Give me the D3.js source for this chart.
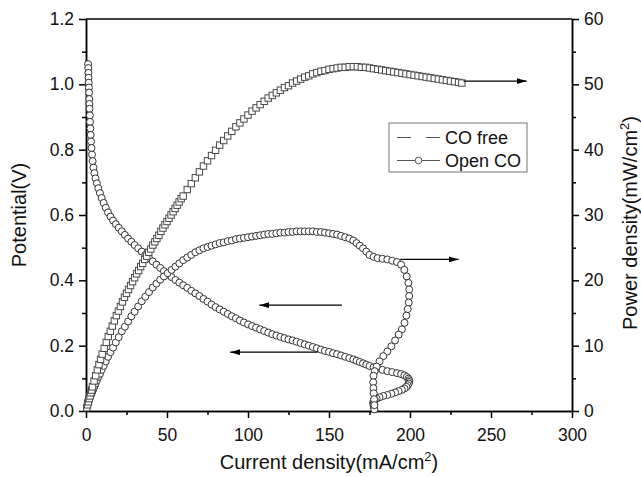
<!DOCTYPE html>
<html lang="en">
<head>
    <meta charset="UTF-8">
    <title>Potential and power density vs current density</title>
    <script src="https://d3js.org/d3.v7.min.js"></script>
    <style>
        body { margin: 0; background: #fff; }
        text { font-family: "Liberation Sans", Arial, sans-serif; fill: #111; }
        .axis path, .axis line { stroke: #000; stroke-width: 1.5; }
        .axis text { font-size: 17.5px; }
    </style>
</head>
<body>
    <svg width="641" height="477"></svg>

    <script>
        // CO free: power density curve (square markers)
        const currentFree = [0.5, 1, 1.5, 2, 2.5, 3, 3.5, 4, 5, 6, 7, 8, 9,
            10, 11.25, 12.5, 13.75, 15, 16.25, 17.5, 18.75, 20, 21.25,
            22.5, 23.75, 25, 26.25, 27.5, 28.75, 30, 31.25, 32.5, 33.75,
            35, 36.25, 37.5, 38.75, 40, 41.25, 42.5, 43.75, 45, 46.25,
            47.5, 48.75, 50, 51.25, 52.5, 53.75, 55, 56.25, 57.5, 58.75, 60,
            62.5, 65, 67.5, 70, 72.5, 75, 77.5, 80, 82.5, 85,
            87.5, 90, 92.5, 95, 97.5, 100, 102.5, 105, 107.5, 110,
            112.5, 115, 117.5, 120, 122.5, 125, 127.5, 130, 132.5, 135,
            137.5, 140, 142.5, 145, 147.5, 150, 152.5, 155, 157.5, 160,
            162.5, 165, 167.5, 170, 172.5, 175, 177.5, 180, 182.5, 185,
            187.5, 190, 192.5, 195, 197.5, 200, 202.5, 205, 207.5, 210,
            212.5, 215, 217.5, 220, 222.5, 225, 227.5, 230, 232];
        const powerFree = [0.5, 0.95, 1.4, 1.9, 2.3, 2.8, 3.2, 3.7, 4.6, 5.4, 6.3, 7.1, 7.9,
            8.7, 9.6, 10.5, 11.4, 12.2, 13.0, 13.8, 14.6, 15.3, 16.0,
            16.7, 17.4, 18.0, 18.6, 19.2, 19.8, 20.4, 21.0, 21.5, 22.1,
            22.6, 23.2, 23.7, 24.3, 24.8, 25.4, 25.9, 26.4, 26.9, 27.5,
            28.0, 28.5, 29.0, 29.5, 30.0, 30.5, 31.0, 31.5, 32.0, 32.5, 32.9,
            33.9, 34.8, 35.7, 36.6, 37.5, 38.3, 39.1, 39.9, 40.7, 41.4,
            42.1, 42.8, 43.5, 44.1, 44.7, 45.3, 45.9, 46.4, 46.9, 47.4,
            47.9, 48.3, 48.7, 49.1, 49.5, 49.8, 50.2, 50.5, 50.8, 51.1,
            51.3, 51.6, 51.8, 52.0, 52.1, 52.3, 52.4, 52.5, 52.6, 52.6,
            52.7, 52.7, 52.7, 52.6, 52.6, 52.5, 52.4, 52.3, 52.2, 52.1,
            52.0, 51.9, 51.8, 51.7, 51.6, 51.5, 51.4, 51.3, 51.2, 51.1,
            51.0, 50.9, 50.8, 50.7, 50.6, 50.5, 50.4, 50.3, 50.2];

        // Open CO: polarization + power density (circle markers)
        const currentOpen = [1.3, 1.4, 1.5, 1.6, 1.7, 1.8, 1.9, 2.0, 2.1, 2.2,
            2.4, 2.5, 2.7, 2.9, 3.1, 3.4, 3.7, 4.1, 4.6, 5.2,
            5.9, 6.7, 7.6, 8.6, 9.7, 10.9, 12.2, 13.6, 15.1, 16.7,
            18.4, 20.2, 22.1, 24.0, 26.0, 28.0, 30.0, 32.2, 34.4, 36.6,
            38.9, 41.2, 43.5, 45.8, 48.1, 50.4, 52.8, 55.2, 57.6, 60.0,
            62.5, 65, 67.5, 70, 72.5, 75, 77.5, 80, 82.5, 85,
            87.5, 90, 92.5, 95, 97.5, 100, 102.5, 105, 107.5, 110,
            112.5, 115, 117.5, 120, 122.5, 125, 127.5, 130, 132.5, 135,
            137.5, 140, 142.5, 145, 147.5, 150, 152.5, 155, 157.5, 160,
            162.5, 165, 167, 169, 171, 173, 175, 177.5, 180, 183,
            186, 189, 192, 194.5, 196.5, 198, 199, 199.5, 199.5, 199.2,
            198.6, 197.8, 196.6, 195, 193, 190.8, 188.5, 186, 183.5, 181.2,
            179.4, 178.2, 177.5, 177.3, 177.4, 177.6, 177.8, 178];
        const potentialOpen = [1.062, 1.05, 1.035, 1.02, 1.005, 0.99, 0.975, 0.955, 0.94, 0.925,
            0.905, 0.885, 0.865, 0.845, 0.825, 0.805, 0.785, 0.765, 0.745, 0.728,
            0.712, 0.697, 0.682, 0.667, 0.652, 0.637, 0.622, 0.608, 0.595, 0.583,
            0.572, 0.561, 0.55, 0.539, 0.528, 0.518, 0.508, 0.498, 0.488, 0.478,
            0.468, 0.458, 0.448, 0.438, 0.428, 0.418, 0.41, 0.401, 0.393, 0.385,
            0.377, 0.368, 0.36, 0.352, 0.343, 0.335, 0.326, 0.318, 0.311, 0.304,
            0.297, 0.29, 0.284, 0.277, 0.271, 0.265, 0.26, 0.255, 0.25, 0.245,
            0.24, 0.235, 0.231, 0.227, 0.223, 0.219, 0.216, 0.212, 0.208, 0.204,
            0.2, 0.196, 0.192, 0.188, 0.184, 0.181, 0.177, 0.174, 0.17, 0.166,
            0.162, 0.158, 0.154, 0.15, 0.146, 0.142, 0.138, 0.134, 0.13, 0.126,
            0.122, 0.119, 0.116, 0.113, 0.109, 0.104, 0.099, 0.094, 0.089, 0.084,
            0.079, 0.074, 0.069, 0.065, 0.061, 0.057, 0.053, 0.049, 0.046, 0.042,
            0.038, 0.034, 0.03, 0.025, 0.02, 0.015, 0.01, 0.005];
        const powerOpen = [1.4, 1.5, 1.6, 1.6, 1.7, 1.8, 1.9, 1.9, 2.0, 2.0,
            2.2, 2.2, 2.3, 2.5, 2.6, 2.7, 2.9, 3.1, 3.4, 3.8,
            4.2, 4.7, 5.2, 5.7, 6.3, 6.9, 7.6, 8.3, 9.0, 9.7,
            10.5, 11.3, 12.2, 12.9, 13.7, 14.5, 15.2, 16.0, 16.8, 17.5,
            18.2, 18.9, 19.5, 20.1, 20.6, 21.1, 21.6, 22.1, 22.6, 23.1,
            23.5, 23.9, 24.3, 24.6, 24.9, 25.1, 25.3, 25.5, 25.7, 25.8,
            26.0, 26.1, 26.3, 26.4, 26.5, 26.6, 26.7, 26.8, 26.9, 27.0,
            27.1, 27.1, 27.2, 27.3, 27.3, 27.4, 27.4, 27.5, 27.5, 27.5,
            27.5, 27.5, 27.4, 27.4, 27.3, 27.2, 27.1, 27.0, 26.8, 26.6,
            26.4, 26.1, 25.7, 25.3, 24.9, 24.4, 23.9, 23.6, 23.4, 23.3,
            23.2, 23.0, 22.8, 22.4, 21.6, 20.6, 19.6, 18.6, 17.6, 16.6,
            15.6, 14.6, 13.5, 12.5, 11.7, 10.8, 9.9, 9.1, 8.4, 7.6,
            6.8, 6.1, 5.4, 4.4, 3.5, 2.7, 1.8, 0.9];

        // ticks
        const xTicks = [0, 50, 100, 150, 200, 250, 300];
        const xMinor = [25, 75, 125, 175, 225, 275];
        const leftTicks = [0, 0.2, 0.4, 0.6, 0.8, 1.0, 1.2];
        const leftMinor = [0.1, 0.3, 0.5, 0.7, 0.9, 1.1];
        const rightTicks = [0, 10, 20, 30, 40, 50, 60];
        const rightMinor = [5, 15, 25, 35, 45, 55];

        // arrows pointing to the axis each curve belongs to: [axis, y value, from x, to x]
        const arrows = [
            ["right", 50.5, 233, 272],
            ["right", 23.2, 194, 230],
            ["left", 0.324, 158, 107],
            ["left", 0.18, 143, 89]
        ];

        const legendLabels = ["CO free", "Open CO"];

        const svg = d3.select("svg");
        const pLeft = 86, pRight = 572, pTop = 19, pBottom = 411;

        const x = d3.scaleLinear().domain([0, 300]).range([pLeft, pRight]);
        const yL = d3.scaleLinear().domain([0, 1.2]).range([pBottom, pTop]);
        const yR = d3.scaleLinear().domain([0, 60]).range([pBottom, pTop]);

        // top frame line
        svg.append("line")
            .attr("x1", pLeft).attr("x2", pRight).attr("y1", pTop).attr("y2", pTop)
            .attr("stroke", "#000").attr("stroke-width", 1.5);

        // axes (major + minor)
        function axisPair(gen, scale, major, minor, fmt, tr) {
            svg.append("g").attr("class", "axis").attr("transform", tr)
                .call(gen(scale).tickValues(minor).tickSize(4).tickSizeOuter(0).tickFormat(""));
            const g = svg.append("g").attr("class", "axis").attr("transform", tr)
                .call(gen(scale).tickValues(major).tickSize(7).tickSizeOuter(0).tickPadding(5).tickFormat(fmt));
            return g;
        }
        const gx = axisPair(d3.axisBottom, x, xTicks, xMinor, d3.format("d"), `translate(0,${pBottom})`);
        gx.selectAll("text").attr("dy", "1.05em");
        axisPair(d3.axisLeft, yL, leftTicks, leftMinor, d3.format(".1f"), `translate(${pLeft},0)`);
        axisPair(d3.axisRight, yR, rightTicks, rightMinor, d3.format("d"), `translate(${pRight},0)`);

        // axis titles
        const xt = svg.append("text").attr("x", (pLeft + pRight) / 2).attr("y", 469)
            .attr("text-anchor", "middle").style("font-size", "20px");
        xt.append("tspan").text("Current density(mA/cm");
        xt.append("tspan").attr("dy", -8).style("font-size", "13px").text("2");
        xt.append("tspan").attr("dy", 8).text(")");

        svg.append("text").attr("transform", `translate(26,${(pTop + pBottom) / 2}) rotate(-90)`)
            .attr("text-anchor", "middle").style("font-size", "20px").text("Potential(V)");

        const yt = svg.append("text").attr("transform", `translate(637,${(pTop + pBottom) / 2 + 8}) rotate(-90)`)
            .attr("text-anchor", "middle").style("font-size", "20px");
        yt.append("tspan").text("Power density(mW/cm");
        yt.append("tspan").attr("dy", -8).style("font-size", "13px").text("2");
        yt.append("tspan").attr("dy", 8).text(")");

        const stroke = "#333";

        // Open CO polarization curve
        svg.append("g").selectAll("circle")
            .data(d3.range(currentOpen.length))
            .join("circle")
            .attr("cx", i => x(currentOpen[i]))
            .attr("cy", i => yL(potentialOpen[i]))
            .attr("r", 3.5)
            .attr("fill", "#fff").attr("stroke", stroke).attr("stroke-width", 1);

        // Open CO power curve
        svg.append("g").selectAll("circle")
            .data(d3.range(currentOpen.length))
            .join("circle")
            .attr("cx", i => x(currentOpen[i]))
            .attr("cy", i => yR(powerOpen[i]))
            .attr("r", 3.5)
            .attr("fill", "#fff").attr("stroke", stroke).attr("stroke-width", 1);

        // CO free power curve
        svg.append("g").selectAll("rect")
            .data(d3.range(currentFree.length))
            .join("rect")
            .attr("x", i => x(currentFree[i]) - 3.2)
            .attr("y", i => yR(powerFree[i]) - 3.2)
            .attr("width", 6.4).attr("height", 6.4)
            .attr("fill", "#fff").attr("stroke", "#484848").attr("stroke-width", 1);

        // arrows
        svg.append("defs").append("marker")
            .attr("id", "head").attr("viewBox", "0 0 10 6")
            .attr("refX", 10).attr("refY", 3)
            .attr("markerWidth", 10).attr("markerHeight", 6)
            .attr("markerUnits", "userSpaceOnUse").attr("orient", "auto")
            .append("path").attr("d", "M0,0L10,3L0,6Z").attr("fill", "#000");

        svg.append("g").selectAll("line")
            .data(arrows)
            .join("line")
            .attr("x1", d => x(d[2]))
            .attr("x2", d => x(d[3]))
            .attr("y1", d => (d[0] === "left" ? yL : yR)(d[1]))
            .attr("y2", d => (d[0] === "left" ? yL : yR)(d[1]))
            .attr("stroke", "#000").attr("stroke-width", 1.2)
            .attr("marker-end", "url(#head)");

        // legend
        const lg = svg.append("g");
        lg.append("rect").attr("x", 389).attr("y", 123).attr("width", 138).attr("height", 49)
            .attr("fill", "#fff").attr("stroke", "#777").attr("stroke-width", 1);
        lg.append("line").attr("x1", 397).attr("x2", 411).attr("y1", 137.5).attr("y2", 137.5)
            .attr("stroke", "#555").attr("stroke-width", 1);
        lg.append("line").attr("x1", 426).attr("x2", 440).attr("y1", 137.5).attr("y2", 137.5)
            .attr("stroke", "#555").attr("stroke-width", 1);
        lg.append("line").attr("x1", 397).attr("x2", 440).attr("y1", 160.5).attr("y2", 160.5)
            .attr("stroke", "#555").attr("stroke-width", 1);
        lg.append("circle").attr("cx", 418.5).attr("cy", 160.5).attr("r", 3.3)
            .attr("fill", "#fff").attr("stroke", "#555").attr("stroke-width", 1);
        lg.selectAll("text.lab")
            .data(legendLabels)
            .join("text")
            .attr("class", "lab")
            .attr("x", 445)
            .attr("y", (d, i) => 144 + i * 22.7)
            .style("font-size", "18px")
            .text(d => d);
    </script>
</body>
</html>
